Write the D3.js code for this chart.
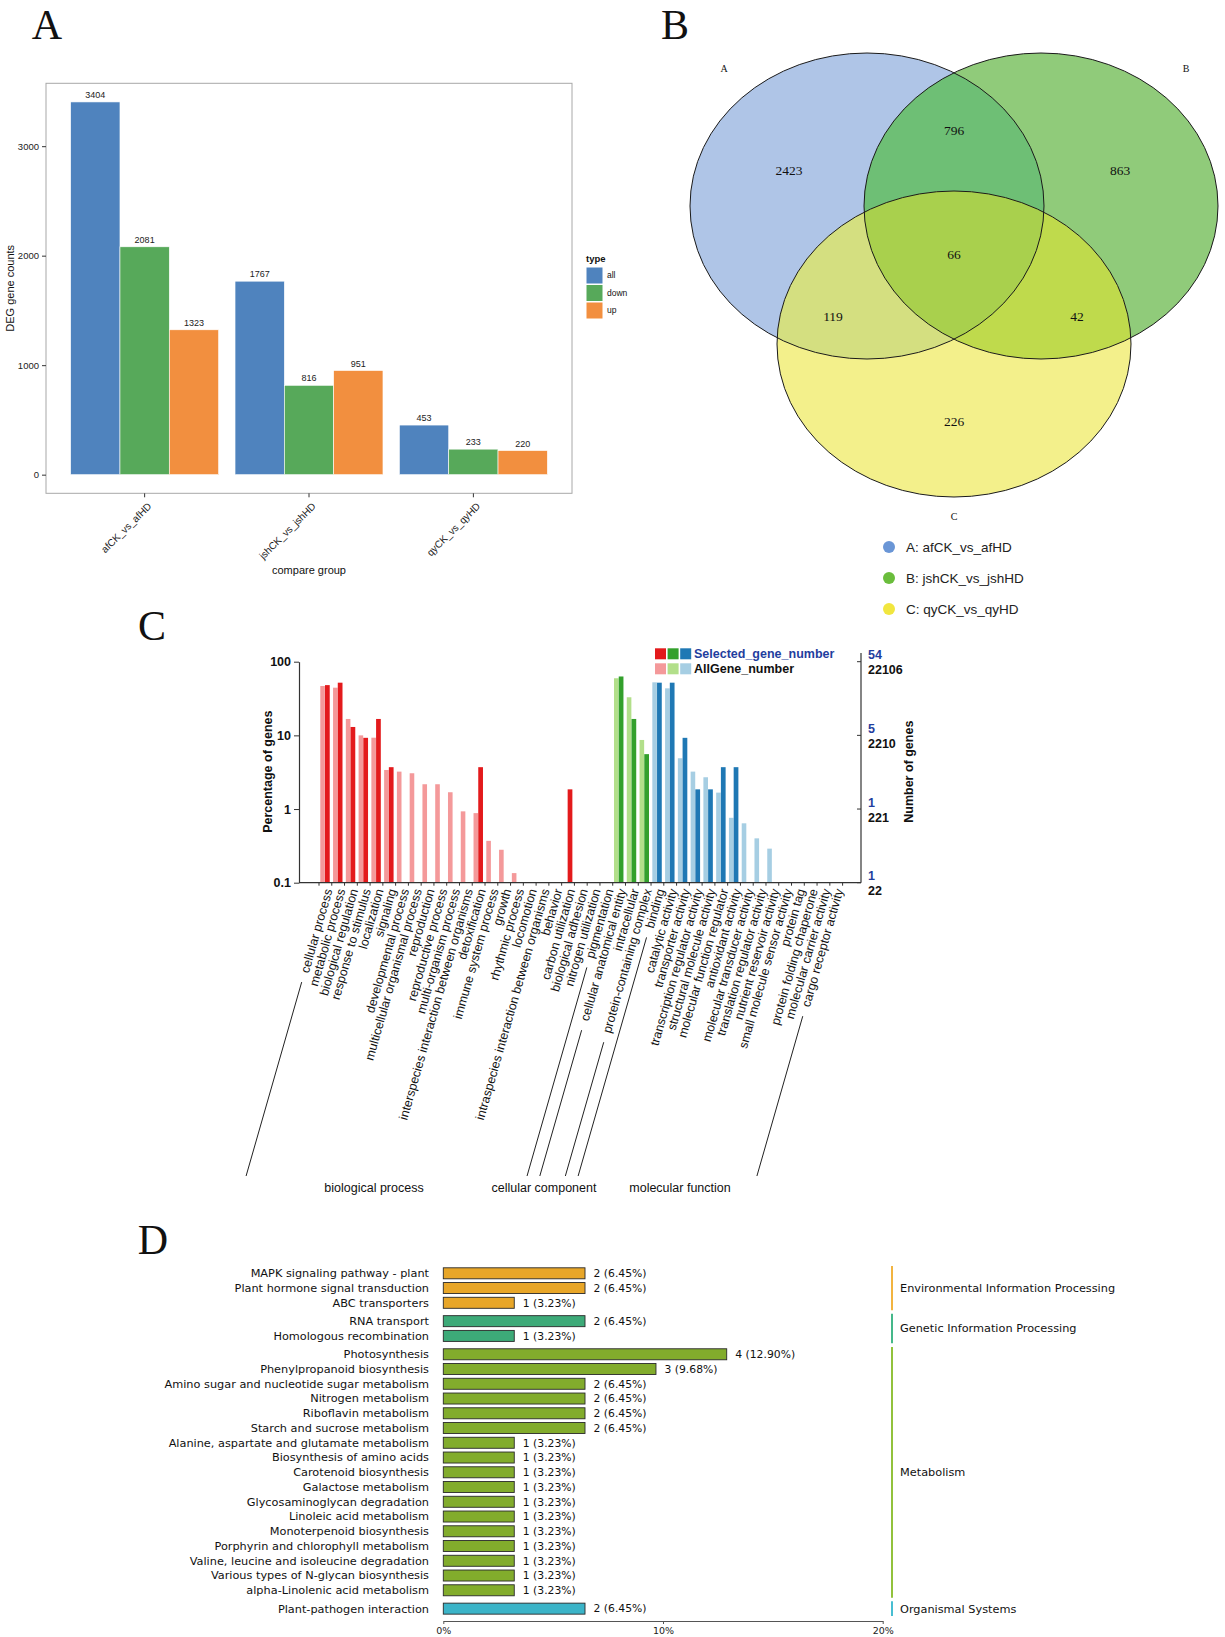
<!DOCTYPE html>
<html>
<head>
<meta charset="utf-8">
<script src="https://cdn.jsdelivr.net/npm/d3@7"></script>
<style>
  body { margin: 0; background: #fff; }
  svg { display: block; }
</style>
</head>
<body>
<div id="fig"></div>
<script>
// ---------- data: panel A (DEG counts) ----------
const degGroups = ["afCK_vs_afHD", "jshCK_vs_jshHD", "qyCK_vs_qyHD"];
const degTypes = ["all", "down", "up"];
const degAll = [3404, 1767, 453];
const degDown = [2081, 816, 233];
const degUp = [1323, 951, 220];
const degTicks = [0, 1000, 2000, 3000];

// ---------- data: panel B (Venn) ----------
const vennSets = ["A", "B", "C"];
const vennNames = ["A: afCK_vs_afHD", "B: jshCK_vs_jshHD", "C: qyCK_vs_qyHD"];
const vennRegions = ["A", "B", "C", "AB", "AC", "BC", "ABC"];
const vennCounts = [2423, 863, 226, 796, 119, 42, 66];

// ---------- data: panel C (GO classification) ----------
const goTerms = [
  "cellular process", "metabolic process", "biological regulation", "response to stimulus",
  "localization", "signaling", "developmental process", "multicellular organismal process",
  "reproduction", "reproductive process", "multi-organism process",
  "interspecies interaction between organisms", "detoxification", "immune system process",
  "growth", "rhythmic process", "locomotion", "intraspecies interaction between organisms",
  "behavior", "carbon utilization", "biological adhesion", "nitrogen utilization", "pigmentation",
  "cellular anatomical entity", "intracellular", "protein-containing complex",
  "binding", "catalytic activity", "transporter activity", "transcription regulator activity",
  "structural molecule activity", "molecular function regulator", "antioxidant activity",
  "molecular transducer activity", "translation regulator activity", "nutrient reservoir activity",
  "small molecule sensor activity", "protein tag", "protein folding chaperone",
  "molecular carrier activity", "cargo receptor activity"
];
const goClasses = ["biological process", "cellular component", "molecular function"];
const goClassSize = [23, 3, 15];
// percentage of genes (0 = no bar)
const goSelectedPct = [48.1, 51.9, 13.0, 9.26, 16.7, 3.70, 0, 0, 0, 0, 0, 0, 3.70, 0, 0, 0, 0, 0, 0, 1.85, 0, 0, 0,
  63.0, 16.7, 5.56,
  51.9, 51.9, 9.26, 1.85, 1.85, 3.70, 3.70, 0, 0, 0, 0, 0, 0, 0, 0];
const goAllPct = [46.8, 44.4, 16.7, 10.0, 9.3, 3.39, 3.22, 3.06, 2.17, 2.17, 1.69, 0.93, 0.88, 0.37, 0.28, 0.135, 0, 0, 0, 0, 0, 0, 0,
  59.6, 32.9, 8.66,
  52.5, 43.5, 4.89, 3.22, 2.70, 1.67, 0.76, 0.64, 0.40, 0.29, 0, 0, 0, 0, 0];
const goPctTicks = [100, 10, 1, 0.1];
const goSelTickLabels = ["54", "5", "1", "1"];
const goAllTickLabels = ["22106", "2210", "221", "22"];

// ---------- data: panel D (KEGG classification) ----------
const keggTerms = [
  "MAPK signaling pathway - plant", "Plant hormone signal transduction", "ABC transporters",
  "RNA transport", "Homologous recombination",
  "Photosynthesis", "Phenylpropanoid biosynthesis", "Amino sugar and nucleotide sugar metabolism",
  "Nitrogen metabolism", "Riboflavin metabolism", "Starch and sucrose metabolism",
  "Alanine, aspartate and glutamate metabolism", "Biosynthesis of amino acids", "Carotenoid biosynthesis",
  "Galactose metabolism", "Glycosaminoglycan degradation", "Linoleic acid metabolism",
  "Monoterpenoid biosynthesis", "Porphyrin and chlorophyll metabolism",
  "Valine, leucine and isoleucine degradation", "Various types of N-glycan biosynthesis",
  "alpha-Linolenic acid metabolism",
  "Plant-pathogen interaction"
];
const keggClasses = ["Environmental Information Processing", "Genetic Information Processing", "Metabolism", "Organismal Systems"];
const keggClassSize = [3, 2, 17, 1];
const keggCounts = [2, 2, 1, 2, 1, 4, 3, 2, 2, 2, 2, 1, 1, 1, 1, 1, 1, 1, 1, 1, 1, 1, 2];
const keggPct = [6.45, 6.45, 3.23, 6.45, 3.23, 12.90, 9.68, 6.45, 6.45, 6.45, 6.45, 3.23, 3.23, 3.23, 3.23, 3.23, 3.23, 3.23, 3.23, 3.23, 3.23, 3.23, 6.45];
const keggTicks = [0, 10, 20];

// ---------- setup ----------
const W = 1225, H = 1637;
const sans = "'Liberation Sans', Arial, Helvetica, sans-serif";
const serif = "'Liberation Serif', 'Times New Roman', serif";
const lucida = "'DejaVu Sans', Verdana, sans-serif";

const svg = d3.select("#fig").append("svg")
  .attr("width", W)
  .attr("height", H);
svg.append("rect").attr("width", W).attr("height", H).attr("fill", "#fff");

// panel letters
[["A", 47, 39], ["B", 675, 39], ["C", 152, 640], ["D", 153, 1254]].forEach(([t, x, y]) => {
  svg.append("text").attr("x", x).attr("y", y)
    .attr("text-anchor", "middle")
    .attr("font-family", serif).attr("font-size", 42).attr("fill", "#111")
    .text(t);
});

// ================= panel A =================
const aBox = { x0: 46, x1: 572, y0: 83.3, y1: 493.3 };
const gA = svg.append("g");
const ax = d3.scaleBand().domain(degGroups).range([aBox.x0, aBox.x1]).paddingInner(0).paddingOuter(0.1);
const axIn = d3.scaleBand().domain(degTypes).range([0.05 * ax.bandwidth(), 0.95 * ax.bandwidth()]);
const ay = d3.scaleLinear().domain([-170.2, 3574.2]).range([aBox.y1, aBox.y0]);
const degColor = d3.scaleOrdinal().domain(degTypes).range(["#4F83BE", "#57A95A", "#F28F3F"]);
const degValues = [degAll, degDown, degUp];
const degRows = degGroups.flatMap((g, i) => degTypes.map((t, k) => ({ g: g, t: t, v: degValues[k][i] })));

gA.append("rect")
  .attr("x", aBox.x0).attr("y", aBox.y0)
  .attr("width", aBox.x1 - aBox.x0).attr("height", aBox.y1 - aBox.y0)
  .attr("fill", "#fff").attr("stroke", "#a8a8a8").attr("stroke-width", 1);

gA.selectAll("rect.bar")
  .data(degRows)
  .enter()
  .append("rect")
  .attr("class", "bar")
  .attr("x", d => ax(d.g) + axIn(d.t))
  .attr("y", d => ay(d.v))
  .attr("width", axIn.bandwidth())
  .attr("height", d => ay(0) - ay(d.v))
  .attr("fill", d => degColor(d.t))
  .attr("stroke", "#fff")
  .attr("stroke-width", 0.6);

gA.selectAll("text.val")
  .data(degRows)
  .enter()
  .append("text")
  .attr("class", "val")
  .attr("x", d => ax(d.g) + axIn(d.t) + axIn.bandwidth() / 2)
  .attr("y", d => ay(d.v) - 4)
  .attr("text-anchor", "middle")
  .attr("font-family", sans).attr("font-size", 9).attr("fill", "#222")
  .text(d => d.v);

const aLeft = gA.append("g")
  .attr("transform", `translate(${aBox.x0},0)`)
  .call(d3.axisLeft(ay).tickValues(degTicks).tickFormat(d3.format("d")).tickSize(4).tickSizeOuter(0));
aLeft.select(".domain").remove();
aLeft.selectAll("line").attr("stroke", "#333");
aLeft.selectAll("text").attr("font-family", sans).attr("font-size", 9.5).attr("fill", "#222");

const aBottom = gA.append("g")
  .attr("transform", `translate(0,${aBox.y1})`)
  .call(d3.axisBottom(ax).tickSize(4).tickSizeOuter(0));
aBottom.select(".domain").remove();
aBottom.selectAll("line").attr("stroke", "#333");
aBottom.selectAll("text")
  .attr("font-family", sans).attr("font-size", 10).attr("fill", "#222")
  .attr("text-anchor", "end")
  .attr("x", 0).attr("y", 0).attr("dy", "0.35em")
  .attr("transform", "translate(5,11) rotate(-45)");

gA.append("text")
  .attr("transform", `translate(10,${(aBox.y0 + aBox.y1) / 2}) rotate(-90)`)
  .attr("text-anchor", "middle").attr("dy", "0.35em")
  .attr("font-family", sans).attr("font-size", 11).attr("fill", "#111")
  .text("DEG gene counts");

gA.append("text")
  .attr("x", (aBox.x0 + aBox.x1) / 2).attr("y", 574)
  .attr("text-anchor", "middle")
  .attr("font-family", sans).attr("font-size", 11).attr("fill", "#111")
  .text("compare group");

// legend A
const aLeg = gA.append("g").attr("transform", "translate(586,258)");
aLeg.append("text").attr("x", 0).attr("y", 4)
  .attr("font-family", sans).attr("font-size", 9.5).attr("font-weight", "bold").attr("fill", "#111")
  .text("type");
degTypes.forEach((t, i) => {
  aLeg.append("rect").attr("x", 0).attr("y", 9 + i * 17.5)
    .attr("width", 17).attr("height", 17)
    .attr("fill", degColor(t)).attr("stroke", "#fff").attr("stroke-width", 1);
  aLeg.append("text").attr("x", 21).attr("y", 9 + i * 17.5 + 8.5).attr("dy", "0.35em")
    .attr("font-family", sans).attr("font-size", 8.5).attr("fill", "#111")
    .text(t);
});

// ================= panel B (Venn) =================
const gB = svg.append("g");
const venn = { cx: 954, dx: 87, cy: 206, dy: 138, rx: 177, ry: 153 };
const vennCenter = {
  A: [venn.cx - venn.dx, venn.cy],
  B: [venn.cx + venn.dx, venn.cy],
  C: [venn.cx, venn.cy + venn.dy]
};
const vennFill = { A: "#AFC5E7", B: "#90CB7A", C: "#F3F08B", AB: "#6EBF75", AC: "#D4DF80", BC: "#BFDA4C", ABC: "#A9D04D" };
// label offsets from the centre of the layout (panel geometry)
const vennLabelPos = {
  A: [-165, -36], B: [166, -36], C: [0, 215], AB: [0, -76], AC: [-121, 110], BC: [123, 110], ABC: [0, 48]
};

const defs = svg.append("defs");
vennSets.forEach(s => {
  defs.append("clipPath").attr("id", "clip" + s)
    .append("ellipse")
    .attr("cx", vennCenter[s][0]).attr("cy", vennCenter[s][1])
    .attr("rx", venn.rx).attr("ry", venn.ry);
});
function ell(g, s, fill, stroke) {
  return g.append("ellipse")
    .attr("cx", vennCenter[s][0]).attr("cy", vennCenter[s][1])
    .attr("rx", venn.rx).attr("ry", venn.ry)
    .attr("fill", fill).attr("stroke", stroke || "none");
}
vennSets.forEach(s => ell(gB, s, vennFill[s]));
ell(gB.append("g").attr("clip-path", "url(#clipA)"), "B", vennFill.AB);
ell(gB.append("g").attr("clip-path", "url(#clipA)"), "C", vennFill.AC);
ell(gB.append("g").attr("clip-path", "url(#clipB)"), "C", vennFill.BC);
ell(gB.append("g").attr("clip-path", "url(#clipA)").append("g").attr("clip-path", "url(#clipB)"), "C", vennFill.ABC);
vennSets.forEach(s => ell(gB, s, "none", "#1a1a1a").attr("stroke-width", 1));

vennRegions.forEach((r, i) => {
  gB.append("text")
    .attr("x", venn.cx + vennLabelPos[r][0])
    .attr("y", venn.cy + vennLabelPos[r][1])
    .attr("text-anchor", "middle").attr("dy", "0.35em")
    .attr("font-family", serif).attr("font-size", 13.5).attr("fill", "#111")
    .text(vennCounts[i]);
});
// set names at the ellipses
[["A", -230, -138], ["B", 232, -138], ["C", 0, 310]].forEach(([t, ox, oy]) => {
  gB.append("text").attr("x", venn.cx + ox).attr("y", venn.cy + oy)
    .attr("text-anchor", "middle").attr("dy", "0.35em")
    .attr("font-family", serif).attr("font-size", 10).attr("fill", "#111")
    .text(t);
});
const vennDot = ["#6A96D6", "#6ABD3C", "#F1E63F"];
vennNames.forEach((n, i) => {
  const y = venn.cy + 341 + i * 31;
  gB.append("circle").attr("cx", 889).attr("cy", y).attr("r", 6).attr("fill", vennDot[i]);
  gB.append("text").attr("x", 906).attr("y", y).attr("dy", "0.35em")
    .attr("font-family", sans).attr("font-size", 13.5).attr("fill", "#222")
    .text(n);
});

// ================= panel C (GO) =================
const gC = svg.append("g");
const cx = d3.scaleBand().domain(goTerms).range([319, 842.6]);
const cy = d3.scaleLog().domain([0.1, 100]).range([882.7, 661.7]);
const bw = cx.bandwidth();
const goDark = ["#E31A1C", "#33A02C", "#1F78B4"];
const goLight = ["#F4999A", "#B2DF8A", "#A6CEE3"];
const goClassOf = goClassSize.flatMap((n, k) => d3.range(n).map(() => k));
const goRows = goTerms.map((t, i) => ({ t: t, k: goClassOf[i], sel: goSelectedPct[i], all: goAllPct[i] }));

gC.selectAll("rect.all")
  .data(goRows.filter(d => d.all > 0))
  .enter().append("rect")
  .attr("x", d => cx(d.t) + 0.1 * bw)
  .attr("y", d => cy(d.all))
  .attr("width", 0.36 * bw)
  .attr("height", d => cy(0.1) - cy(d.all))
  .attr("fill", d => goLight[d.k]);
gC.selectAll("rect.sel")
  .data(goRows.filter(d => d.sel > 0))
  .enter().append("rect")
  .attr("x", d => cx(d.t) + 0.47 * bw)
  .attr("y", d => cy(d.sel))
  .attr("width", 0.37 * bw)
  .attr("height", d => cy(0.1) - cy(d.sel))
  .attr("fill", d => goDark[d.k]);

// left axis
const cLeft = gC.append("g")
  .attr("transform", "translate(299,0)")
  .call(d3.axisLeft(cy).tickValues(goPctTicks).tickFormat(d => d).tickSize(5).tickSizeOuter(0));
cLeft.select(".domain").attr("stroke", "#333").attr("stroke-width", 1.2);
cLeft.selectAll("line").attr("stroke", "#333");
cLeft.selectAll("text").attr("font-family", sans).attr("font-size", 12.5).attr("font-weight", "bold").attr("fill", "#111");

gC.append("text")
  .attr("transform", `translate(268,771.7) rotate(-90)`)
  .attr("text-anchor", "middle").attr("dy", "0.35em")
  .attr("font-family", sans).attr("font-size", 12.5).attr("font-weight", "bold").attr("fill", "#111")
  .text("Percentage of genes");

// bottom axis line with category ticks
gC.append("line").attr("x1", 299).attr("x2", 861).attr("y1", cy(0.1)).attr("y2", cy(0.1))
  .attr("stroke", "#333").attr("stroke-width", 1.2);
gC.selectAll("line.ct")
  .data(goTerms.concat([null]))
  .enter().append("line")
  .attr("x1", (d, i) => 319 + i * bw).attr("x2", (d, i) => 319 + i * bw)
  .attr("y1", cy(0.1)).attr("y2", cy(0.1) + 3)
  .attr("stroke", "#333");

// right axis (number of genes)
gC.append("line").attr("x1", 861).attr("x2", 861).attr("y1", 653).attr("y2", cy(0.1))
  .attr("stroke", "#333").attr("stroke-width", 1.2);
goPctTicks.forEach((p, i) => {
  gC.append("line").attr("x1", 857).attr("x2", 861).attr("y1", cy(p)).attr("y2", cy(p)).attr("stroke", "#333");
  gC.append("text").attr("x", 868).attr("y", cy(p) - 2.5)
    .attr("font-family", sans).attr("font-size", 12.5).attr("font-weight", "bold").attr("fill", "#1F3E9E")
    .text(goSelTickLabels[i]);
  gC.append("text").attr("x", 868).attr("y", cy(p) + 12.5)
    .attr("font-family", sans).attr("font-size", 12.5).attr("font-weight", "bold").attr("fill", "#111")
    .text(goAllTickLabels[i]);
});
gC.append("text")
  .attr("transform", `translate(909,771.7) rotate(-90)`)
  .attr("text-anchor", "middle").attr("dy", "0.35em")
  .attr("font-family", sans).attr("font-size", 12.5).attr("font-weight", "bold").attr("fill", "#111")
  .text("Number of genes");

// legend C
const cLeg = gC.append("g").attr("transform", "translate(655,648.3)");
[goDark, goLight].forEach((cols, r) => {
  cols.forEach((c, j) => {
    cLeg.append("rect").attr("x", j * 12.6).attr("y", r * 15).attr("width", 11).attr("height", 11).attr("fill", c);
  });
});
cLeg.append("text").attr("x", 39).attr("y", 9.5)
  .attr("font-family", sans).attr("font-size", 12.5).attr("font-weight", "bold").attr("fill", "#1F3E9E")
  .text("Selected_gene_number");
cLeg.append("text").attr("x", 39).attr("y", 24.5)
  .attr("font-family", sans).attr("font-size", 12.5).attr("font-weight", "bold").attr("fill", "#111")
  .text("AllGene_number");

// category labels
const angle = 74, rad = angle * Math.PI / 180;
const labelY = 889;
const goLabels = gC.selectAll("text.go")
  .data(goTerms)
  .enter().append("text")
  .attr("class", "go")
  .attr("transform", d => `translate(${cx(d) + bw / 2 + 3},${labelY}) rotate(${-angle})`)
  .attr("text-anchor", "end").attr("dy", "0.35em")
  .attr("font-family", sans).attr("font-size", 12.5).attr("fill", "#111")
  .text(d => d);

// group brackets following the label direction
const bracketBottom = 1176;
const labelLen = {};
goLabels.each(function (d) { labelLen[d] = this.getComputedTextLength(); });
let start = 0;
goClassSize.forEach((n, k) => {
  [goTerms[start], goTerms[start + n - 1]].forEach(t => {
    const x0 = cx(t) + bw / 2 + 3 - (labelLen[t] + 10) * Math.cos(rad);
    const y0 = labelY + (labelLen[t] + 10) * Math.sin(rad);
    const x1 = x0 - (bracketBottom - y0) / Math.tan(rad);
    gC.append("line").attr("x1", x0).attr("y1", y0).attr("x2", x1).attr("y2", bracketBottom)
      .attr("stroke", "#222").attr("stroke-width", 1);
  });
  start += n;
});
[[374, goClasses[0]], [544, goClasses[1]], [680, goClasses[2]]].forEach(([x, t]) => {
  gC.append("text").attr("x", x).attr("y", 1192)
    .attr("text-anchor", "middle")
    .attr("font-family", sans).attr("font-size", 12.5).attr("fill", "#111")
    .text(t);
});

// ================= panel D (KEGG) =================
const gD = svg.append("g");
const kx = d3.scaleLinear().domain([0, 20]).range([443.3, 882.7]);
const step = 14.75, groupGap = 0.245;
const ky = d3.scaleLinear().domain([0, 1]).range([1273.3, 1273.3 + step]);
const keggColor = ["#E8A628", "#3DAA78", "#82AC2C", "#3BB4C8"];
const keggLine = ["#F2B440", "#45B88A", "#92C23C", "#48BED2"];
const keggClassOf = keggClassSize.flatMap((n, k) => d3.range(n).map(() => k));
const keggRows = keggTerms.map((t, i) => ({
  t: t, k: keggClassOf[i], n: keggCounts[i], p: keggPct[i], slot: i + keggClassOf[i] * groupGap
}));
const barH = 11;

gD.selectAll("rect.kb")
  .data(keggRows)
  .enter().append("rect")
  .attr("x", kx(0))
  .attr("y", d => ky(d.slot) - barH / 2)
  .attr("width", d => kx(d.p) - kx(0))
  .attr("height", barH)
  .attr("fill", d => keggColor[d.k])
  .attr("stroke", "#2a2a2a").attr("stroke-width", 0.9);

gD.selectAll("text.kl")
  .data(keggRows)
  .enter().append("text")
  .attr("x", 429).attr("y", d => ky(d.slot)).attr("dy", "0.35em")
  .attr("text-anchor", "end")
  .attr("font-family", lucida).attr("font-size", 11.3).attr("fill", "#111")
  .text(d => d.t);

gD.selectAll("text.kv")
  .data(keggRows)
  .enter().append("text")
  .attr("x", d => kx(d.p) + 8.5).attr("y", d => ky(d.slot)).attr("dy", "0.35em")
  .attr("font-family", lucida).attr("font-size", 10.8).attr("fill", "#111")
  .text(d => `${d.n} (${d.p.toFixed(2)}%)`);

const dAxis = gD.append("g")
  .attr("transform", "translate(0,1621)")
  .call(d3.axisBottom(kx).tickValues(keggTicks).tickFormat(d => d + "%").tickSize(3).tickSizeOuter(0));
dAxis.select(".domain").attr("stroke", "#555");
dAxis.selectAll("line").attr("stroke", "#555");
dAxis.selectAll("text").attr("font-family", lucida).attr("font-size", 9.5).attr("fill", "#222");

let kStart = 0;
keggClassSize.forEach((n, k) => {
  const yTop = ky(keggRows[kStart].slot) - step / 2;
  const yBot = ky(keggRows[kStart + n - 1].slot) + step / 2;
  gD.append("line").attr("x1", 892).attr("x2", 892).attr("y1", yTop).attr("y2", yBot)
    .attr("stroke", keggLine[k]).attr("stroke-width", 2);
  gD.append("text").attr("x", 900).attr("y", (yTop + yBot) / 2).attr("dy", "0.35em")
    .attr("font-family", lucida).attr("font-size", 11.3).attr("fill", "#111")
    .text(keggClasses[k]);
  kStart += n;
});
</script>
</body>
</html>
